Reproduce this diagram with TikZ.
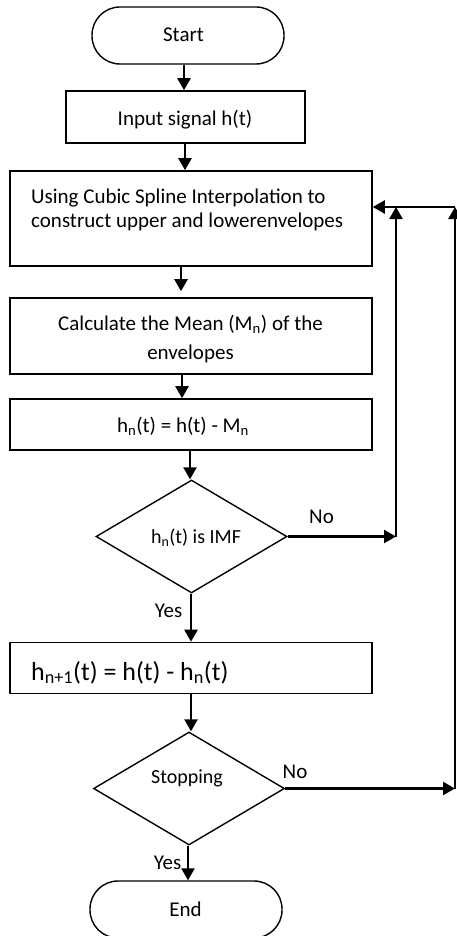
\documentclass[tikz,border=0pt]{standalone}
\usepackage{fontspec}
\setmainfont{Carlito}
\usetikzlibrary{arrows.meta,shapes.geometric,calc}
\begin{document}
\begin{tikzpicture}[x=1pt,y=-1pt,
  box/.style={draw,line width=1.6pt,minimum width=362pt,inner sep=0pt},
  term/.style={draw,line width=1.4pt,rounded corners=28pt,minimum width=192pt,minimum height=57pt,inner sep=0pt},
  dec/.style={draw,line width=1.4pt,diamond,aspect=1.7,inner sep=0pt,minimum width=191pt,minimum height=113pt},
  arr/.style={line width=2.4pt,-{Triangle[width=13pt,length=12pt]}},
  txt/.style={font=\fontsize{21}{25}\selectfont,inner sep=0pt,anchor=base},
  lbl/.style={font=\fontsize{21}{25}\selectfont,inner sep=0pt,anchor=base}]
\useasboundingbox (0,0) rectangle (457,936);
% nodes
\node[term] (start) at (188,35.5) {};
\node[txt] (startt) at (183.5,42) {Start};
\node[box,minimum width=239pt,minimum height=52pt] (input) at (185.5,117) {};
\node[txt] (inputt) at (185,126) {Input signal h(t)};
\node[box,minimum height=95pt] (cubic) at (191,218.5) {};
\node[txt,anchor=base west] (cubict1) at (31,203) {Using Cubic Spline Interpolation to};
\node[txt,anchor=base west] (cubict2) at (31,227) {construct upper and lowerenvelopes};
\node[box,minimum height=76pt] (mean) at (191,336) {};
\node[txt] (meant1) at (190.5,330) {Calculate the Mean (M\textsubscript{n}) of the};
\node[txt] (meant2) at (190.5,359) {envelopes};
\node[box,minimum height=51pt] (hn) at (191,424.5) {};
\node[txt] (hnt) at (183,432) {h\textsubscript{n}(t) = h(t) - M\textsubscript{n}};
\node[dec] (d1) at (191.5,536.5) {};
\node[txt,font=\fontsize{20}{24}\selectfont] (d1t) at (196,543) {h\textsubscript{n}(t) is IMF};
\node[box,minimum height=51pt] (hn1) at (191,668) {};
\node[txt,anchor=base west,font=\fontsize{26}{30}\selectfont] (hn1t) at (31,680) {h\textsubscript{n+1}(t) = h(t) - h\textsubscript{n}(t)};
\node[dec] (d2) at (189,788.5) {};
\node[txt,font=\fontsize{20}{24}\selectfont] (d2t) at (187,783) {Stopping};
\node[term] (end) at (186,909.5) {};
\node[txt] (endt) at (185.5,916) {End};
% labels
\node[lbl] (no1) at (321.5,523) {No};
\node[lbl] (yes1) at (168.5,617) {Yes};
\node[lbl] (no2) at (295,778) {No};
\node[lbl] (yes2) at (167.5,869) {Yes};
% coordinates
\coordinate (c1) at (396,536.5);
\coordinate (c2) at (455,788.5);
\coordinate (fb) at (455,207);
% main arrows
\draw[arr] (start.south -| 184,0) -- (input.north -| 184,0);
\draw[arr] (input.south -| 185,0) -- (cubic.north -| 185,0);
\draw[arr] (cubic.south -| 181,0) -- ($(mean.north -| 181,0)+(0,-6)$);
\draw[arr] (mean.south -| 182,0) -- (hn.north -| 182,0);
\draw[arr] (hn.south -| 190,0) -- (d1.north -| 190,0);
\draw[arr] (d1.south -| 191,0) -- (hn1.north -| 191,0);
\draw[arr] (hn1.south -| 191,0) -- (d2.north -| 191,0);
\draw[arr] (d2.south -| 188,0) -- (end.north -| 188,0);
% feedback
\draw[arr] (d1.east) -- (c1);
\draw[arr] (c1) -- (c1 |- fb);
\draw[arr] (d2.east) -- (c2);
\draw[arr] (c2) -- (fb);
\draw[arr] (fb) -- (cubic.east |- fb);
\end{tikzpicture}
\end{document}
